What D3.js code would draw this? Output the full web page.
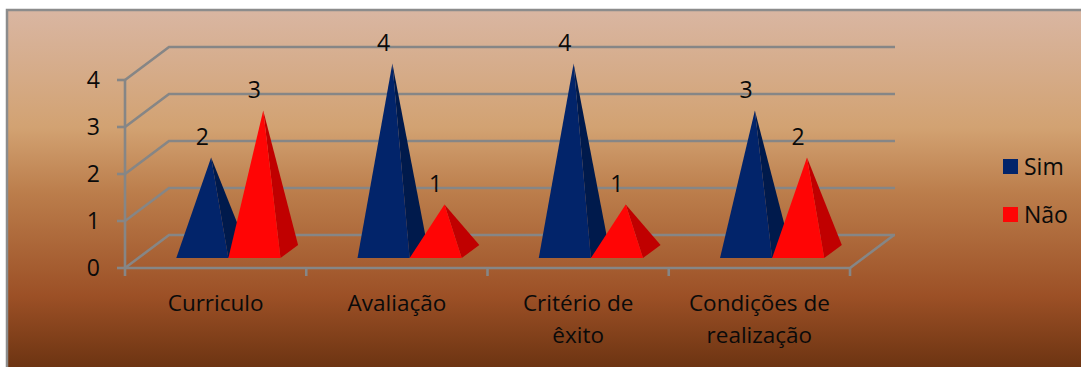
<!DOCTYPE html>
<html lang="pt">
<head>
<meta charset="utf-8">
<title>Sim / Não</title>
<script src="https://cdn.jsdelivr.net/npm/d3@7"></script>
<style>
html,body{margin:0;padding:0;background:#fff}
svg{display:block}
text{font-family:"Open Sans","Noto Sans",sans-serif;fill:#0a0a0a}
</style>
</head>
<body>
<svg id="chart" width="1081" height="367"></svg>
<script>
const categories = [["Curriculo"], ["Avaliação"], ["Critério de", "êxito"], ["Condições de", "realização"]];
const seriesNames = ["Sim", "Não"];
const sim = [2, 4, 4, 3];
const nao = [3, 1, 1, 2];
const tickValues = [0, 1, 2, 3, 4];

const frontColors = {Sim: "#02246a", "Não": "#ff0505"};
const sideColors = {Sim: "#001a4c", "Não": "#c00000"};
const seriesValues = {Sim: sim, "Não": nao};

const svg = d3.select("#chart");
const W = 1081, H = 367;

// Backdrop gradient
const grad = svg.append("defs").append("linearGradient")
  .attr("id", "bg").attr("x1", 0).attr("x2", 0).attr("y1", 0).attr("y2", 1);
[[0, "#d9b6a2"], [0.32, "#d2a272"], [0.5, "#bb7d4b"], [0.78, "#9c5026"], [1, "#66300f"]]
  .forEach(([o, c]) => grad.append("stop").attr("offset", o).attr("stop-color", c));

svg.append("rect").attr("x", 7).attr("y", 10).attr("width", W).attr("height", H)
  .attr("fill", "url(#bg)").attr("stroke", "#8c8c8c").attr("stroke-width", 2.5);

// Oblique projection: depth 0 is the front of the floor, depth 1 the back wall
const depthDx = 44, depthDy = -33;
const x = d3.scaleBand().domain(d3.range(categories.length)).range([125, 850]);
const y = d3.scaleLinear().domain([0, 4]).range([268, 80]);
const seriesX = d3.scaleBand().domain(seriesNames)
  .range([x.bandwidth() * 0.21, x.bandwidth() * 0.785]);
const project = (px, value, depth) => [px + depth * depthDx, y(value) + depth * depthDy];
const line = d3.line();

const grid = svg.append("g").attr("fill", "none").attr("stroke", "#868686").attr("stroke-width", 2.6);

// Gridlines along the left wall and back wall
tickValues.forEach(v => {
  grid.append("path").attr("d", line([
    project(125, v, 0), project(125, v, 1), project(851, v, 1)
  ]));
  grid.append("path").attr("d", line([[117, y(v)], [125, y(v)]]));
});
// Left axis, front floor edge, right floor edge
grid.append("path").attr("d", line([[125, y(4)], [125, y(0)]]));
grid.append("path").attr("d", line([project(125, 0, 0), project(850, 0, 0), project(850, 0, 1)]));
d3.range(categories.length + 1).forEach(i => {
  const px = 125 + i * x.bandwidth();
  grid.append("path").attr("d", line([[px, y(0)], [px, y(0) + 8]]));
});

// Pyramids: a front face and a shaded right face, series by series
const depthFront = 0.3, depthBack = 0.7, depthMid = 0.5;
categories.forEach((c, i) => {
  seriesNames.forEach(name => {
    const v = seriesValues[name][i];
    const left = x(i) + seriesX(name);
    const right = left + seriesX.bandwidth();
    const apex = project((left + right) / 2, v, depthMid);
    const g = svg.append("g");
    g.append("path").attr("fill", sideColors[name])
      .attr("d", line([project(right, 0, depthFront), project(right, 0, depthBack), apex]) + "Z");
    g.append("path").attr("fill", frontColors[name])
      .attr("d", line([project(left, 0, depthFront), project(right, 0, depthFront), apex]) + "Z");
  });
});

// Data labels
categories.forEach((c, i) => {
  seriesNames.forEach(name => {
    const v = seriesValues[name][i];
    const left = x(i) + seriesX(name);
    svg.append("text")
      .attr("x", left + seriesX.bandwidth() / 2 + depthFront * depthDx)
      .attr("y", y(v) - 37.5)
      .attr("dy", "0.36em")
      .attr("text-anchor", "middle")
      .attr("font-size", 23)
      .text(v);
  });
});

// Value axis labels
tickValues.forEach(v => {
  svg.append("text").attr("x", 100).attr("y", y(v)).attr("dy", "0.36em")
    .attr("text-anchor", "end").attr("font-size", 23).text(v);
});

// Category labels
categories.forEach((lines, i) => {
  lines.forEach((t, k) => {
    svg.append("text")
      .attr("x", x(i) + x.bandwidth() / 2)
      .attr("y", 303 + k * 32)
      .attr("dy", "0.36em")
      .attr("text-anchor", "middle")
      .attr("font-size", 22.5)
      .text(t);
  });
});

// Legend
seriesNames.forEach((name, i) => {
  const ly = 159 + i * 48;
  svg.append("rect").attr("x", 1003).attr("y", ly).attr("width", 15).attr("height", 15)
    .attr("fill", frontColors[name]);
  svg.append("text").attr("x", 1024).attr("y", ly + 7.5).attr("dy", "0.36em")
    .attr("font-size", 23).text(name);
});
</script>
</body>
</html>
